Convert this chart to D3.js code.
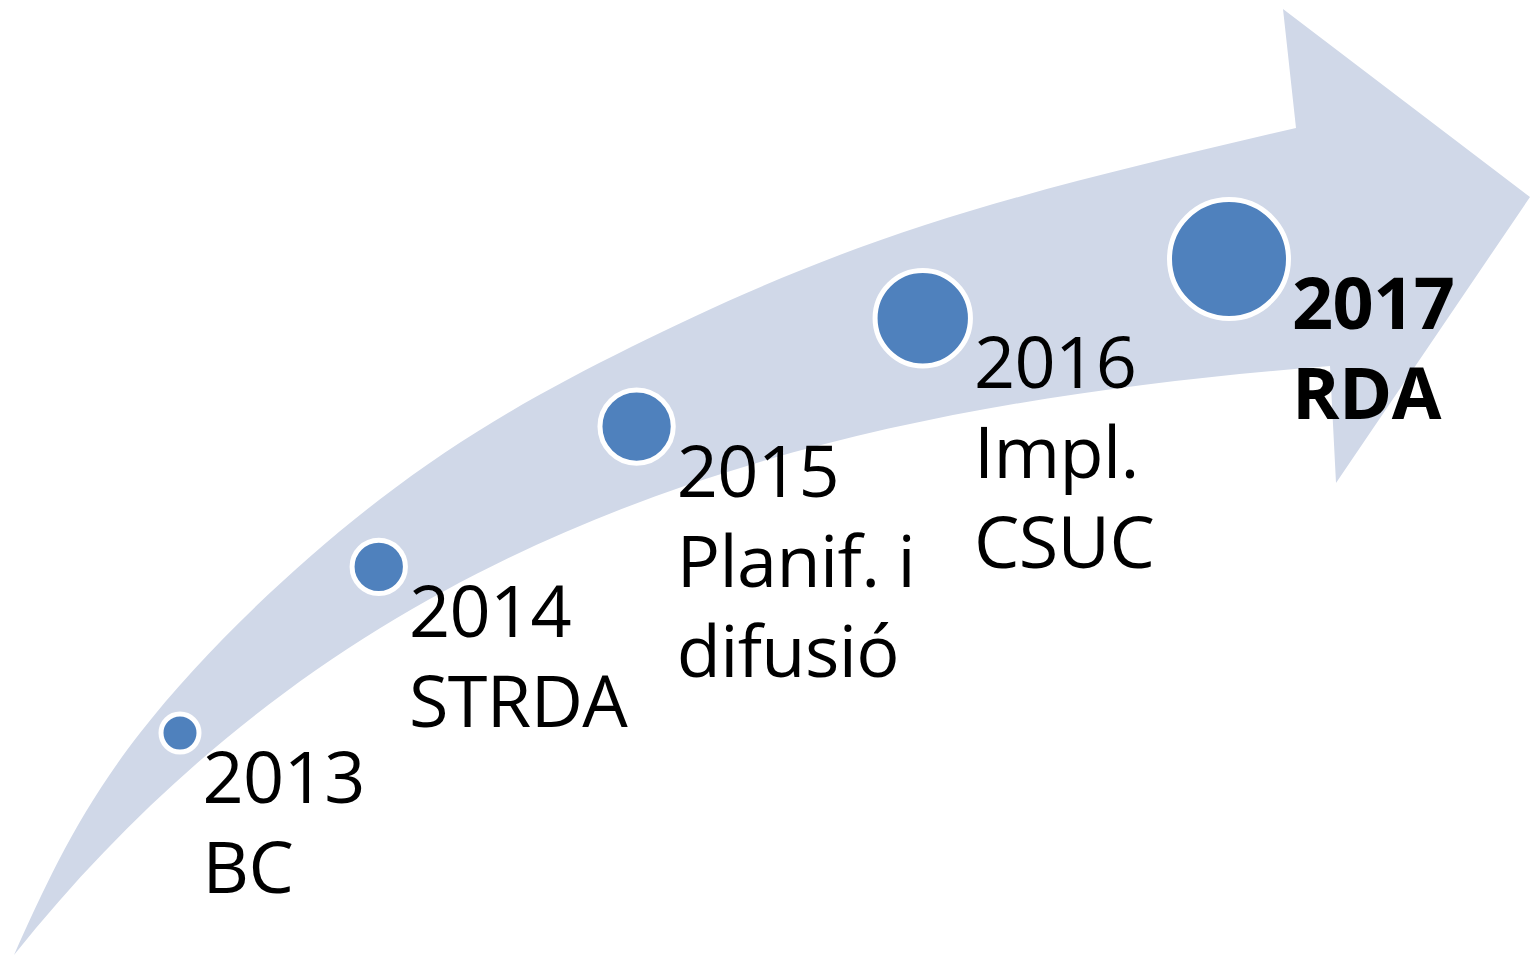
<!DOCTYPE html>
<html>
<head>
<meta charset="utf-8">
<script src="https://cdn.jsdelivr.net/npm/d3@7"></script>
<style>
  body { margin: 0; background: #fff; }
  svg { display: block; }
  .label { font-family: "Open Sans", "Noto Sans", sans-serif; font-size: 72px; letter-spacing: -0.6px; fill: #000; }
  .label.last { font-weight: bold; }
</style>
</head>
<body>
<script>
// timeline data
var years = [2013, 2014, 2015, 2016, 2017];
var titles = ["BC", "STRDA", "Planif. i|difusió", "Impl.|CSUC", "RDA"];
var highlighted = [false, false, false, false, true];

var width = 1530, height = 957,
    arrowColor = "#D0D8E8", dotColor = "#4F81BD",
    lineHeight = 90;

var svg = d3.select("body").append("svg")
    .attr("width", width)
    .attr("height", height);

// curved arrow: upper edge is a smooth spline through guide points, lower edge one cubic
var upperEdge = [[14, 955], [140, 733], [379, 500], [631, 347], [925, 225], [1296, 128]];

var arrow = d3.path();
d3.line().curve(d3.curveNatural).context(arrow)(upperEdge);
arrow.lineTo(1283, 9);
arrow.lineTo(1530, 197);
arrow.lineTo(1336, 483);
arrow.lineTo(1330, 366);
arrow.bezierCurveTo(830, 406, 364, 517, 14, 955);
arrow.closePath();

svg.append("path")
    .attr("class", "arrow")
    .attr("d", arrow.toString())
    .style("fill", arrowColor);

// positions along the arrow, bubbles grow with time
var idx = d3.range(years.length);
var x = d3.scalePow().exponent(1.2).domain([0, 4]).range([180, 1229]);
var y = d3.scalePow().exponent(1.5).domain([0, 4]).range([259, 733]);
var r = d3.scalePow().exponent(1.2).domain([0, 4]).range([16.5, 57]);

var nodes = idx.map(function(i) {
  return {
    year: years[i],
    lines: [String(years[i])].concat(titles[i].split("|")),
    bold: highlighted[i],
    cx: x(i),
    cy: y(4 - i),
    r: r(i)
  };
});

svg.selectAll("circle.dot")
    .data(nodes)
    .enter()
    .append("circle")
    .attr("class", "dot")
    .attr("cx", d => d.cx)
    .attr("cy", d => d.cy)
    .attr("r", d => d.r + 2.5)
    .style("fill", dotColor)
    .style("stroke", "#fff")
    .style("stroke-width", 5);

var labels = svg.selectAll("text.label")
    .data(nodes)
    .enter()
    .append("text")
    .attr("class", d => d.bold ? "label last" : "label")
    .attr("x", d => d.cx + d.r + 6)
    .attr("y", d => d.cy + 70);

labels.selectAll("tspan")
    .data(d => d.lines.map(function(t) { return {t: t, x: d.cx + d.r + 6}; }))
    .enter()
    .append("tspan")
    .attr("x", d => d.x)
    .attr("dy", (d, i) => i === 0 ? 0 : lineHeight)
    .text(d => d.t);
</script>
</body>
</html>
